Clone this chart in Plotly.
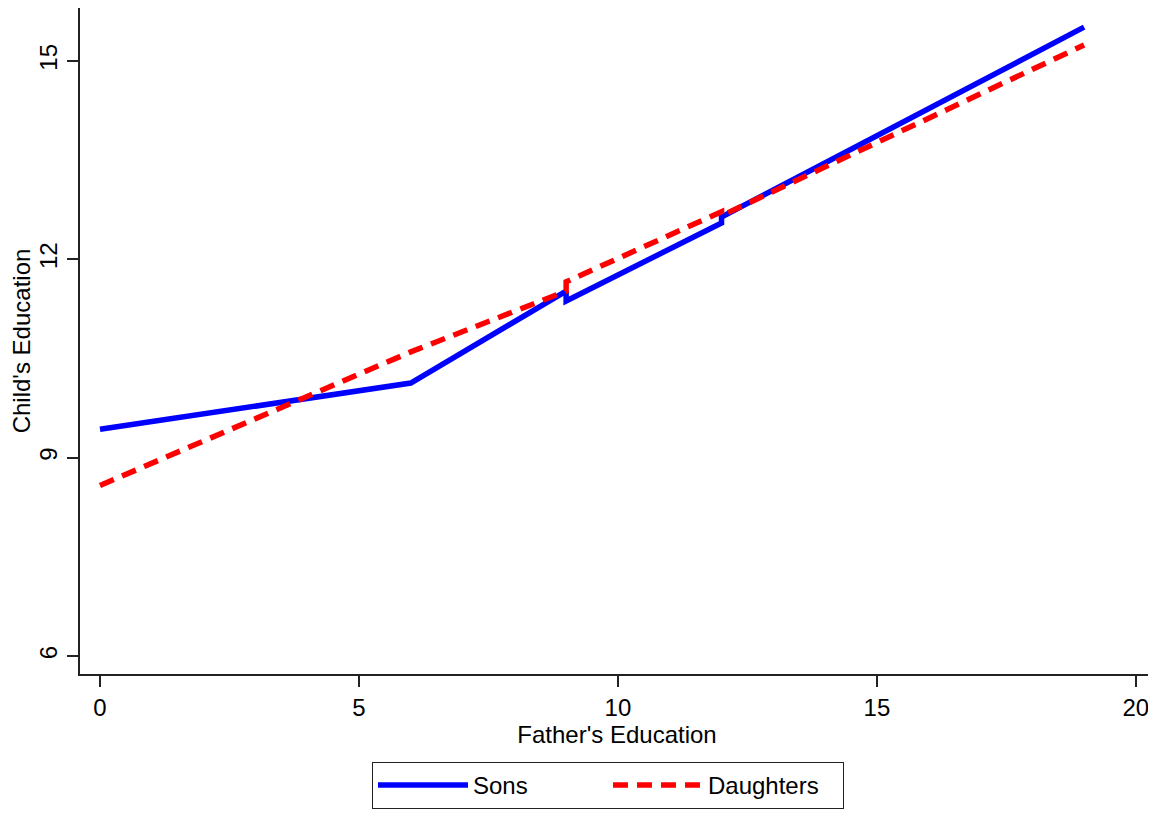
import plotly.graph_objects as go

# Father's education (knots with jumps at 9 and 12)
father_edu = [0, 6, 9, 9, 12, 12, 19]
sons = [9.43, 10.13, 11.52, 11.37, 12.55, 12.64, 15.51]
daughters = [8.58, 10.60, 11.52, 11.66, 12.72, 12.66, 15.24]

x_ticks = [0, 5, 10, 15, 20]
y_ticks = [6, 9, 12, 15]

FONT = "Liberation Sans, Arial, sans-serif"
AX = "#222222"

fig = go.Figure()
fig.add_trace(go.Scatter(x=father_edu, y=sons, mode="lines", name="Sons",
                         line=dict(color="#0000ff", width=5.5)))
fig.add_trace(go.Scatter(x=father_edu, y=daughters, mode="lines", name="Daughters",
                         line=dict(color="#ff0000", width=5.5, dash="15px,9px")))

fig.update_layout(
    width=1148, height=811,
    margin=dict(l=72, r=2, t=0, b=145, autoexpand=False),
    paper_bgcolor="white", plot_bgcolor="white",
    font=dict(family=FONT, size=24, color="black"),
    showlegend=True,
    legend=dict(orientation="h", x=0.4916, xanchor="center", y=-0.132, yanchor="top",
                bordercolor=AX, borderwidth=1, font=dict(size=24),
                itemwidth=90, entrywidth=130, traceorder="normal"),
)
fig.update_xaxes(range=[-0.386, 20.35], tickvals=x_ticks, ticks="outside", ticklen=11,
                 tickwidth=1.5, tickcolor=AX, showline=True, linecolor=AX, linewidth=2,
                 mirror=True, showgrid=False, zeroline=False,
                 title=dict(text="Father's Education", standoff=4, font=dict(size=24)))
fig.update_yaxes(range=[5.73, 15.80], tickvals=y_ticks, ticks="outside", ticklen=11,
                 tickwidth=1.5, tickcolor=AX, showline=True, linecolor=AX, linewidth=2,
                 mirror=True, showgrid=False, zeroline=False, tickangle=-90,
                 title=dict(text="Child's Education", standoff=8, font=dict(size=24)))

fig.write_html("out.html")
